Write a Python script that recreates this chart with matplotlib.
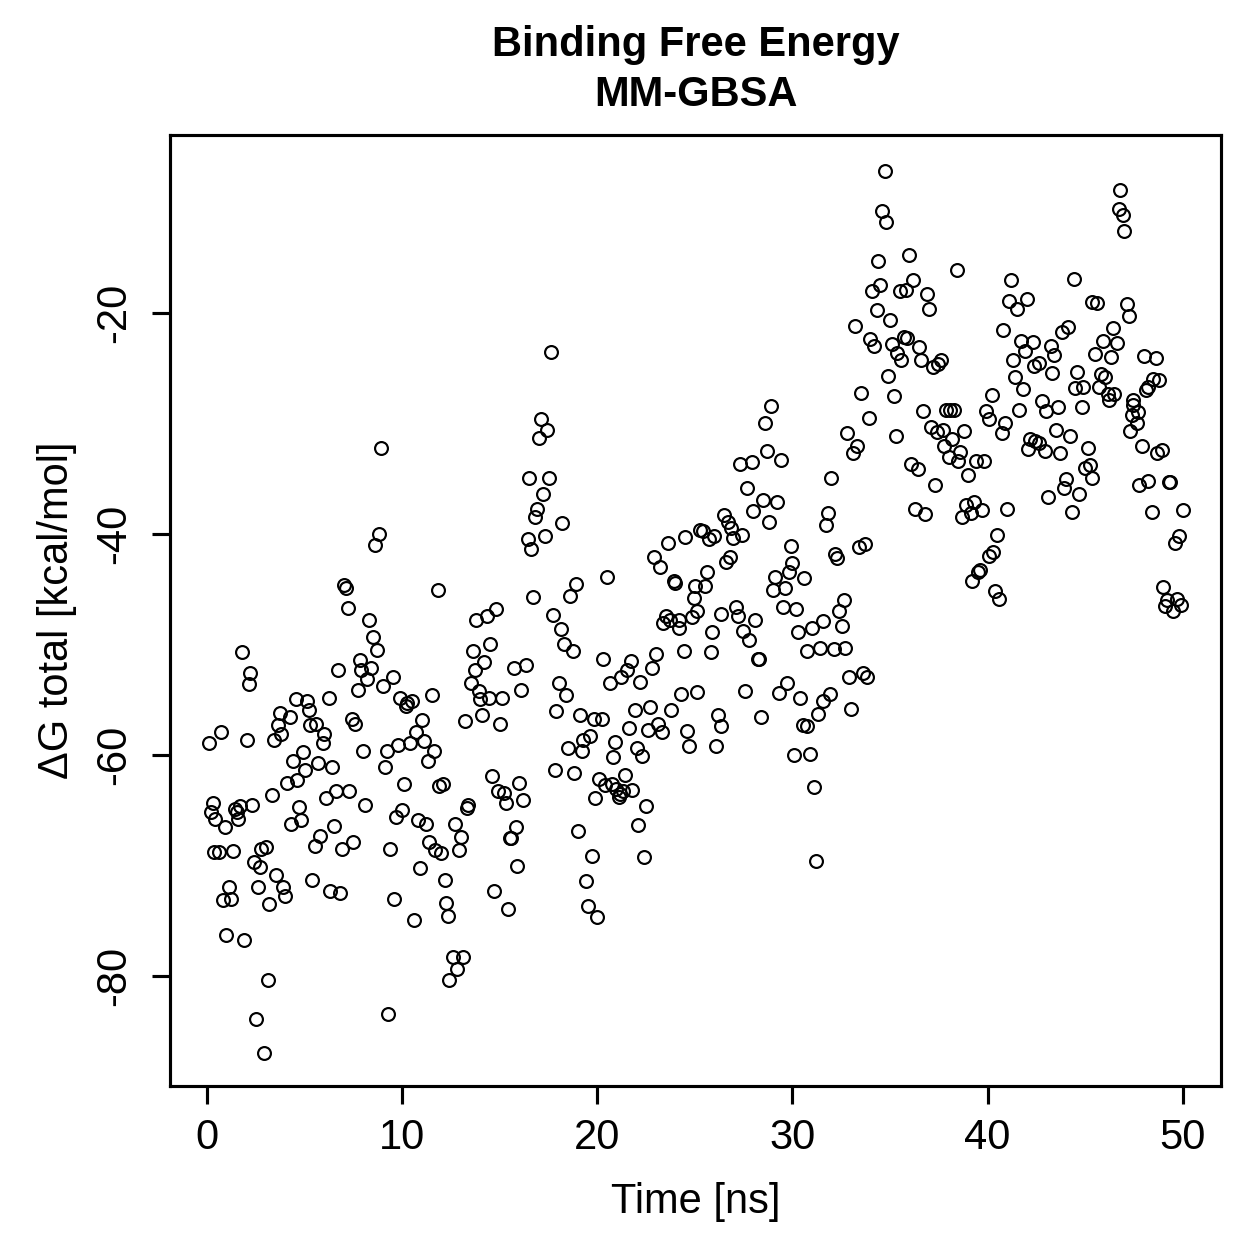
import numpy as np
import matplotlib
matplotlib.use('Agg')
import matplotlib.pyplot as plt

plt.rcParams['font.family'] = ['Liberation Sans', 'DejaVu Sans']

# (time [ns], dG total [kcal/mol]), grouped by 10 ns blocks
block_0_10 = [
    (8.94, -32.2), (8.84, -40.0), (8.63, -41.0), (7.03, -44.6), (7.13, -44.9), (7.23, -46.7),
    (8.34, -47.8), (8.53, -49.3), (8.73, -50.5), (1.84, -50.7), (2.25, -52.6), (2.15, -53.6),
    (7.85, -51.4), (7.92, -52.3), (8.44, -52.1), (6.74, -52.3), (8.24, -53.1), (9.53, -52.9),
    (9.04, -53.8), (7.74, -54.1), (6.26, -54.8), (4.57, -54.9), (5.15, -55.1), (5.26, -55.9),
    (9.93, -54.8), (3.75, -56.2), (4.26, -56.6), (3.65, -57.3), (3.82, -58.1), (5.32, -57.3),
    (5.63, -57.2), (6.04, -58.1), (5.97, -58.9), (7.44, -56.7), (7.61, -57.2), (9.83, -59.1),
    (9.25, -59.6), (8.02, -59.6), (0.73, -57.9), (0.14, -58.9), (2.05, -58.6), (3.44, -58.6),
    (4.95, -59.7), (4.44, -60.5), (5.73, -60.7), (6.43, -61.1), (5.03, -61.4), (9.13, -61.1),
    (4.13, -62.5), (4.64, -62.3), (3.33, -63.6), (6.62, -63.3), (7.32, -63.3), (6.12, -63.9),
    (0.34, -64.3), (0.24, -65.2), (0.43, -65.8), (0.96, -66.5), (1.45, -64.9), (1.74, -64.6),
    (1.54, -65.2), (1.62, -65.8), (2.34, -64.5), (4.74, -64.7), (4.85, -65.9), (4.33, -66.2),
    (8.14, -64.5), (9.72, -65.6), (6.52, -66.4), (5.83, -67.3), (5.53, -68.2), (7.51, -67.9),
    (6.94, -68.5), (9.42, -68.5), (0.37, -68.8), (0.63, -68.8), (1.35, -68.7), (2.81, -68.5),
    (3.04, -68.3), (2.42, -69.7), (2.73, -70.1), (3.55, -70.9), (5.42, -71.3), (1.14, -71.9),
    (2.63, -71.9), (3.92, -71.9), (6.31, -72.3), (6.82, -72.5), (0.82, -73.1), (1.24, -73.0),
    (4.04, -72.8), (3.22, -73.5), (9.62, -73.0), (1.02, -76.3), (1.94, -76.7), (3.14, -80.4),
    (2.52, -83.9), (9.31, -83.4), (2.93, -87.0),
]

block_10_20 = [
    (11.84, -45.1), (10.27, -55.3), (10.51, -55.1), (10.24, -55.6), (11.55, -54.6), (11.05, -56.8),
    (10.75, -57.9), (11.16, -58.7), (10.44, -58.9), (11.63, -59.6), (11.33, -60.5), (10.13, -62.6),
    (11.89, -62.8), (12.11, -62.6), (10.03, -65.0), (10.83, -65.9), (11.22, -66.2), (12.73, -66.2),
    (11.41, -67.9), (11.72, -68.6), (12.01, -68.9), (10.92, -70.2), (12.20, -71.3), (12.25, -73.4),
    (10.61, -74.9), (12.39, -74.6), (12.62, -78.3), (13.13, -78.3), (12.83, -79.4), (12.44, -80.4),
    (17.64, -23.5), (17.13, -29.6), (17.43, -30.6), (17.03, -31.3), (16.52, -34.9), (17.54, -34.9),
    (17.23, -36.4), (16.92, -37.7), (16.84, -38.5), (18.22, -39.0), (16.45, -40.5), (17.33, -40.2),
    (16.62, -41.4), (16.73, -45.7), (18.90, -44.5), (18.63, -45.6), (14.84, -46.8), (14.36, -47.4),
    (13.82, -47.8), (17.74, -47.3), (18.15, -48.6), (18.32, -50.0), (18.75, -50.6), (14.53, -50.0),
    (13.63, -50.6), (14.23, -51.6), (13.75, -52.3), (13.55, -53.5), (13.96, -54.2), (14.02, -54.9),
    (14.47, -54.8), (15.13, -54.8), (15.73, -52.1), (16.34, -51.9), (16.12, -54.1), (13.24, -56.9),
    (14.12, -56.4), (15.01, -57.2), (18.03, -53.5), (18.42, -54.6), (17.91, -56.0), (19.14, -56.4),
    (19.82, -56.7), (18.50, -59.4), (19.28, -58.6), (19.65, -58.3), (19.24, -59.6), (17.83, -61.4),
    (18.81, -61.6), (14.62, -61.9), (14.91, -63.3), (15.25, -63.4), (15.32, -64.3), (16.02, -62.5),
    (16.21, -64.1), (13.41, -64.5), (13.33, -64.8), (13.03, -67.4), (12.93, -68.6), (15.83, -66.5),
    (15.56, -67.5), (15.60, -67.5), (15.92, -70.0), (14.74, -72.3), (15.42, -73.9), (19.91, -63.9),
    (19.02, -66.9), (19.72, -69.1), (19.41, -71.4), (19.53, -73.7),
]

block_20_30 = [
    (20.51, -43.9), (22.93, -42.1), (23.23, -43.0), (23.62, -40.8), (24.52, -40.3), (23.96, -44.3),
    (24.00, -44.4), (24.99, -44.7), (24.94, -45.8), (24.84, -47.5), (23.52, -47.4), (23.40, -48.1),
    (23.75, -47.8), (24.17, -47.8), (24.22, -48.5), (20.30, -51.3), (21.73, -51.5), (21.52, -52.3),
    (21.22, -52.9), (20.64, -53.5), (22.21, -53.4), (23.03, -50.9), (22.82, -52.1), (24.43, -50.6),
    (20.23, -56.7), (20.91, -58.8), (20.81, -60.2), (21.62, -57.6), (21.93, -55.9), (22.72, -55.7),
    (22.60, -57.7), (23.14, -57.2), (23.34, -57.9), (23.81, -55.9), (24.32, -54.5), (25.11, -54.3),
    (24.60, -57.8), (24.70, -59.2), (22.02, -59.4), (22.31, -60.1), (20.11, -62.2), (20.40, -62.7),
    (20.74, -62.6), (20.98, -63.1), (21.19, -63.5), (21.32, -63.3), (21.12, -63.8), (21.42, -61.8),
    (21.80, -63.2), (22.52, -64.6), (22.11, -66.3), (22.42, -69.2), (20.02, -74.7), (28.90, -28.4),
    (28.59, -30.0), (28.69, -32.5), (27.33, -33.7), (27.94, -33.5), (29.41, -33.3), (27.70, -35.8),
    (28.52, -36.9), (29.20, -37.1), (28.00, -37.9), (28.79, -38.9), (26.51, -38.3), (26.68, -38.9),
    (26.85, -39.5), (25.28, -39.6), (25.42, -39.7), (26.98, -40.4), (27.41, -40.1), (26.00, -40.2),
    (25.71, -40.5), (29.92, -41.1), (29.81, -43.4), (29.13, -43.9), (29.03, -45.1), (29.63, -44.9),
    (26.82, -42.1), (26.61, -42.5), (25.61, -43.4), (25.51, -44.7), (25.11, -47.0), (26.35, -47.2),
    (27.12, -46.6), (27.23, -47.4), (28.11, -47.8), (27.49, -48.8), (27.80, -49.6), (25.90, -48.9),
    (25.83, -50.7), (28.22, -51.3), (28.27, -51.3), (29.50, -46.6), (29.71, -53.5), (29.30, -54.4),
    (27.60, -54.2), (26.20, -56.4), (26.33, -57.4), (26.10, -59.2), (28.40, -56.6),
]

block_30_40 = [
    (30.00, -42.6), (30.60, -44.0), (30.19, -46.8), (30.31, -48.9), (31.01, -48.5), (31.59, -47.9),
    (32.41, -47.0), (32.62, -46.0), (32.52, -48.3), (30.77, -50.6), (31.42, -50.3), (32.11, -50.4),
    (32.72, -50.3), (32.89, -52.9), (33.61, -52.6), (33.81, -52.9), (33.00, -55.8), (30.40, -54.8),
    (31.93, -54.5), (31.56, -55.1), (31.32, -56.3), (30.53, -57.3), (30.73, -57.4), (30.10, -60.0),
    (30.91, -59.9), (31.12, -62.9), (31.20, -69.6), (32.00, -34.9), (31.80, -38.1), (31.70, -39.2),
    (32.20, -41.8), (32.30, -42.2), (33.40, -41.2), (33.73, -40.9), (34.73, -7.2), (34.60, -10.8),
    (34.80, -11.8), (35.99, -14.8), (34.41, -15.3), (36.19, -17.0), (34.49, -17.5), (34.10, -18.0),
    (35.52, -18.0), (35.82, -17.9), (36.91, -18.3), (37.00, -19.6), (34.32, -19.7), (35.00, -20.6),
    (33.20, -21.2), (34.00, -22.4), (34.20, -23.0), (35.11, -22.8), (35.72, -22.2), (35.89, -22.3),
    (35.38, -23.6), (35.58, -24.3), (36.50, -23.1), (36.60, -24.3), (37.19, -24.9), (37.47, -24.6),
    (37.60, -24.3), (34.92, -25.7), (33.50, -27.2), (35.21, -27.5), (33.90, -29.5), (36.71, -28.9),
    (37.87, -28.8), (38.08, -28.8), (38.28, -28.8), (37.12, -30.3), (37.42, -30.8), (37.70, -30.6),
    (37.77, -32.0), (35.31, -31.1), (32.82, -30.9), (33.33, -32.0), (33.10, -32.7), (36.10, -33.7),
    (36.41, -34.1), (37.31, -35.6), (36.29, -37.7), (36.81, -38.2), (38.42, -16.1), (38.79, -30.7),
    (38.20, -31.4), (38.59, -32.6), (38.00, -33.0), (38.50, -33.4), (39.41, -33.4), (39.82, -33.4),
    (39.00, -34.7), (38.90, -37.4), (39.30, -37.1), (39.14, -38.1), (38.69, -38.5), (39.71, -37.8),
    (39.61, -43.3), (39.53, -43.4), (39.22, -44.3), (39.92, -28.9),
]

block_40_50 = [
    (46.79, -8.9), (46.71, -10.6), (46.91, -11.1), (47.00, -12.6), (41.20, -17.0), (44.41, -16.9),
    (41.11, -18.9), (41.52, -19.6), (42.00, -18.7), (45.34, -19.0), (45.62, -19.1), (47.12, -19.2),
    (47.22, -20.3), (40.80, -21.5), (43.81, -21.7), (44.09, -21.3), (46.40, -21.4), (45.92, -22.5),
    (46.60, -22.7), (45.51, -23.7), (46.33, -24.0), (41.71, -22.5), (42.31, -22.6), (41.91, -23.4),
    (41.32, -24.3), (43.23, -23.0), (43.42, -23.8), (42.65, -24.5), (42.39, -24.8), (43.30, -25.4),
    (41.42, -25.8), (41.80, -26.9), (44.60, -25.3), (45.79, -25.5), (46.03, -25.8), (44.45, -26.8),
    (44.90, -26.7), (45.72, -26.7), (48.00, -23.9), (48.62, -24.1), (48.48, -26.0), (48.79, -26.1),
    (48.22, -26.7), (48.09, -27.0), (40.20, -27.4), (42.80, -28.0), (46.17, -27.3), (46.46, -27.3),
    (47.46, -27.9), (42.99, -28.9), (43.61, -28.5), (44.81, -28.5), (46.19, -27.9), (47.46, -28.3),
    (47.37, -29.2), (47.71, -29.0), (47.63, -30.0), (47.29, -30.7), (47.90, -32.0), (48.69, -32.7),
    (48.91, -32.4), (47.76, -35.6), (48.22, -35.2), (49.30, -35.3), (49.35, -35.3), (48.41, -38.0),
    (49.98, -37.8), (49.78, -40.2), (49.59, -40.8), (48.99, -44.8), (49.20, -46.0), (49.10, -46.5),
    (49.50, -47.0), (49.70, -45.9), (49.90, -46.4), (41.61, -28.8), (40.72, -30.9), (40.91, -30.0),
    (40.06, -29.6), (42.17, -31.4), (42.43, -31.6), (42.61, -31.8), (42.92, -32.5), (42.08, -32.3),
    (43.50, -30.6), (44.22, -31.1), (43.70, -32.7), (45.12, -32.2), (44.99, -34.0), (45.23, -33.8),
    (45.32, -34.9), (44.01, -35.0), (43.91, -35.8), (44.69, -36.4), (43.10, -36.7), (44.30, -38.0),
    (41.01, -37.7), (40.50, -40.1), (40.29, -41.6), (40.08, -42.0), (40.39, -45.2), (40.60, -45.9),
]

x_ticks = [0, 10, 20, 30, 40, 50]
y_ticks = [-80, -60, -40, -20]

pts = np.array(block_0_10 + block_10_20 + block_20_30 + block_30_40 + block_40_50)
time_ns = pts[:, 0]
dg_total = pts[:, 1]

W = H = 1259
fig = plt.figure(figsize=(W / 250, H / 250), dpi=250)
ax = fig.add_axes([170 / W, 1 - 1086 / H, (1221 - 170) / W, (1086 - 135) / H])

ax.plot(time_ns, dg_total, 'o', mfc='none', mec='black', ms=3.7, mew=0.62, ls='none')

ax.set_xlim(-1.87, 51.95)
ax.set_ylim(-89.95, -3.9)

for sp in ax.spines.values():
    sp.set_linewidth(0.9)

ax.set_xticks(x_ticks)
ax.set_yticks(y_ticks)
ax.set_yticklabels([str(v) for v in y_ticks], rotation=90, va='center')
ax.tick_params(axis='both', length=5.2, width=0.9, labelsize=12, direction='out')
ax.tick_params(axis='x', pad=4.0)
ax.tick_params(axis='y', pad=5.0)

ax.set_xlabel('Time [ns]', fontsize=12, labelpad=7)
ax.set_ylabel('\u0394G total [kcal/mol]', fontsize=12, labelpad=5)

# two-line bold title above the plot box
fig.text(0.5 * (170 + 1221) / W, 1 - 45 / H, 'Binding Free Energy', ha='center', va='center',
         fontsize=12, fontweight='bold')
fig.text(0.5 * (170 + 1221) / W, 1 - 95 / H, 'MM-GBSA', ha='center', va='center',
         fontsize=12, fontweight='bold')

fig.savefig('out.png', dpi=250)
